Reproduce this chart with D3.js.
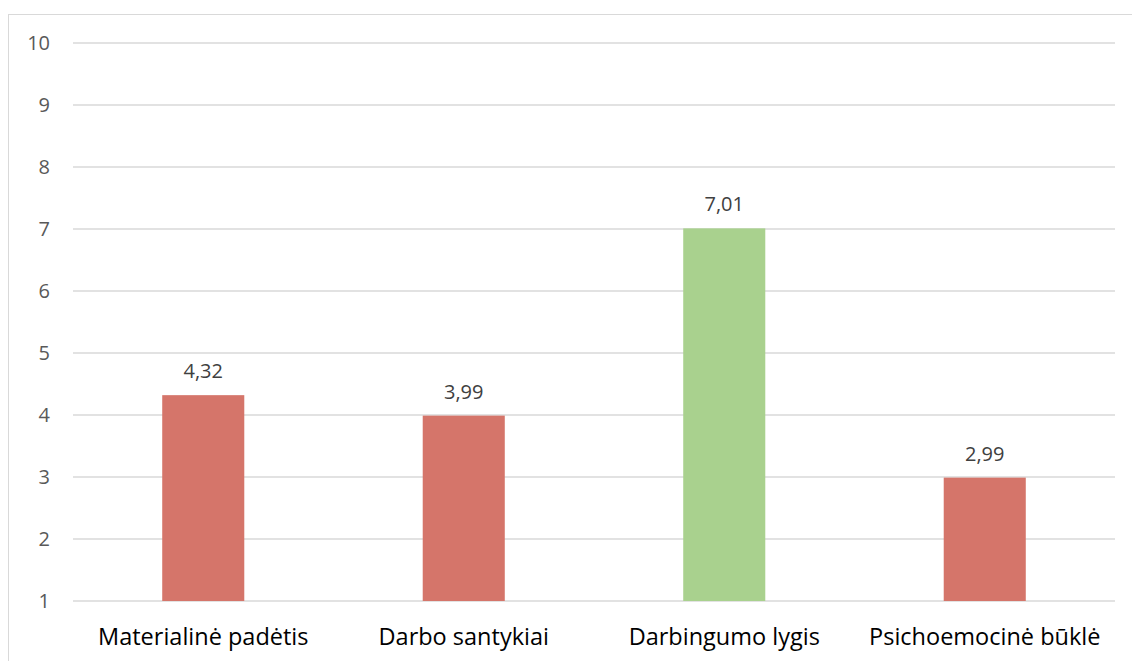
<!DOCTYPE html>
<html>
<head>
<meta charset="utf-8">
<script src="https://cdn.jsdelivr.net/npm/d3@7"></script>
<style>
  html, body { margin: 0; padding: 0; background: #fff; }
  svg { display: block; font-family: "Open Sans", "Liberation Sans", sans-serif; }
  .grid line { stroke: #d9d9d9; stroke-width: 1.3; }
  .tick-label { fill: #595959; font-size: 20px; }
  .value-label { fill: #404040; font-size: 20px; }
  .cat-label { fill: #000; font-size: 23.5px; }
</style>
</head>
<body>
<svg id="chart" width="1132" height="661"></svg>
<script>
const categories = ['Materialinė padėtis', 'Darbo santykiai', 'Darbingumo lygis', 'Psichoemocinė būklė'];
const values = [4.32, 3.99, 7.01, 2.99];
const highlight = [false, false, true, false];
const yTicks = [1, 2, 3, 4, 5, 6, 7, 8, 9, 10];

const width = 1132;
const height = 661;
const margin = { top: 43, right: 17, bottom: 60, left: 73 };

const svg = d3.select('#chart');

// chart frame
svg.append('rect')
  .attr('x', 8.5).attr('y', 14.5)
  .attr('width', width + 20).attr('height', height + 20)
  .attr('fill', 'none').attr('stroke', '#d9d9d9').attr('stroke-width', 1);

const x = d3.scaleBand()
  .domain(categories)
  .range([margin.left, width - margin.right])
  .paddingInner(0.685)
  .paddingOuter(0.3425);

const y = d3.scaleLinear()
  .domain([1, 10])
  .range([height - margin.bottom, margin.top]);

const grid = svg.append('g').attr('class', 'grid');
grid.selectAll('line')
  .data(yTicks)
  .join('line')
  .attr('x1', margin.left)
  .attr('x2', width - margin.right)
  .attr('y1', (d) => y(d))
  .attr('y2', (d) => y(d));

svg.append('g')
  .selectAll('text')
  .data(yTicks)
  .join('text')
  .attr('class', 'tick-label')
  .attr('x', 50)
  .attr('y', (d) => y(d))
  .attr('dy', '0.35em')
  .attr('text-anchor', 'end')
  .text((d) => d);

svg.append('g')
  .selectAll('rect')
  .data(values)
  .join('rect')
  .attr('x', (d, i) => x(categories[i]))
  .attr('width', x.bandwidth())
  .attr('y', (d) => y(d))
  .attr('height', (d) => y(1) - y(d))
  .attr('fill', (d, i) => highlight[i] ? '#a9d18e' : '#d5756a');

svg.append('g')
  .selectAll('text')
  .data(values)
  .join('text')
  .attr('class', 'value-label')
  .attr('x', (d, i) => x(categories[i]) + x.bandwidth() / 2)
  .attr('y', (d) => y(d) - 17)
  .attr('text-anchor', 'middle')
  .text((d) => d.toFixed(2).replace('.', ','));

svg.append('g')
  .selectAll('text')
  .data(categories)
  .join('text')
  .attr('class', 'cat-label')
  .attr('x', (d) => x(d) + x.bandwidth() / 2)
  .attr('y', 645)
  .attr('text-anchor', 'middle')
  .text((d) => d);
</script>
</body>
</html>
